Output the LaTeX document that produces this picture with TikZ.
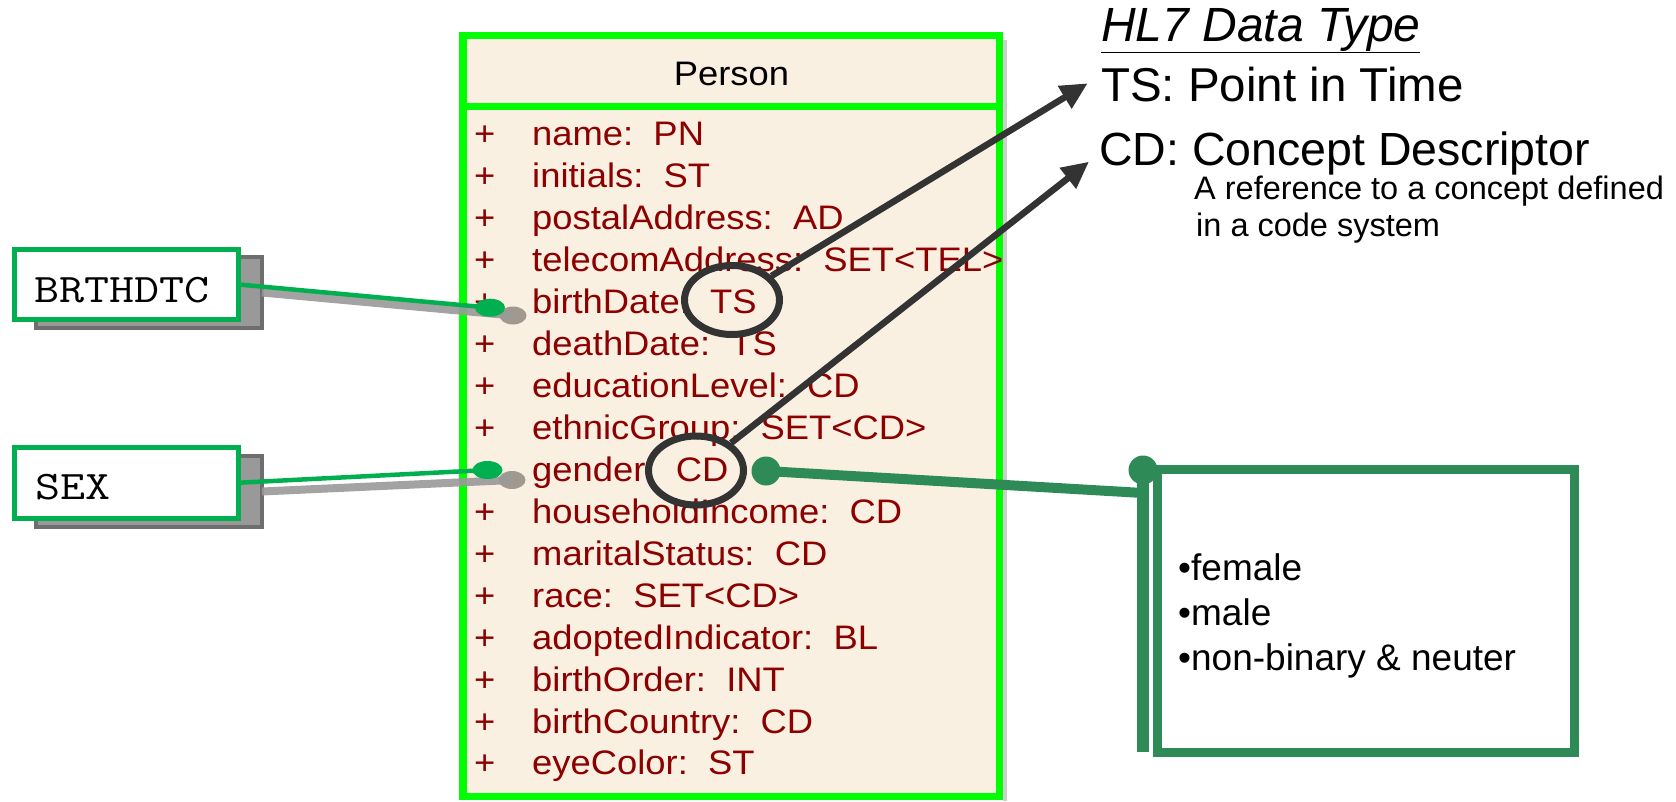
\documentclass[tikz,border=0pt]{standalone}
\usepackage{fontspec}
\setmainfont{Liberation Sans}
\newfontfamily\attrfont[FakeStretch=1.07]{Liberation Sans}
\newfontfamily\codefont[FakeStretch=1.2]{Latin Modern Mono}
\usetikzlibrary{arrows.meta,shapes.geometric}
\definecolor{boxfill}{RGB}{250,240,226}
\definecolor{attrred}{RGB}{140,0,0}
\definecolor{lime}{RGB}{0,255,0}
\definecolor{mapgreen}{RGB}{0,176,80}
\definecolor{sea}{RGB}{46,139,87}
\definecolor{shadowgray}{RGB}{153,153,153}
\definecolor{shadowedge}{RGB}{110,110,110}
\definecolor{blobgray}{RGB}{152,144,136}
\definecolor{ink}{RGB}{51,51,51}
\definecolor{lightshadow}{RGB}{205,205,205}
\begin{document}
\begin{tikzpicture}[x=1pt,y=-1pt,
  attr/.style={anchor=base west,inner sep=0,font=\attrfont\fontsize{34}{40}\selectfont,text=attrred},
  plain/.style={anchor=base west,inner sep=0},
  codebox/.style={draw=mapgreen,line width=5pt,fill=white,inner sep=0,outer sep=0,anchor=north west,minimum width=224.3pt,minimum height=70.5pt},
  shadowbox/.style={draw=shadowedge,line width=4pt,fill=shadowgray,inner sep=0,outer sep=0,anchor=north west,minimum width=226pt,minimum height=71pt},
  codetext/.style={anchor=base west,inner sep=0,font=\codefont\fontsize{40.5}{46}\selectfont},
  mapdot/.style={ellipse,fill=mapgreen,inner sep=0,minimum width=30pt,minimum height=18pt},
  blob/.style={ellipse,fill=blobgray,opacity=0.9,inner sep=0,minimum width=27pt,minimum height=18pt},
  shadowline/.style={shadowgray,line width=8pt,opacity=0.9},
  mapline/.style={mapgreen,line width=4.5pt},
  ring/.style={ellipse,draw=ink,line width=7pt,inner sep=0,minimum width=95pt,minimum height=69pt},
  pointer/.style={ink,line width=6.5pt,-{Triangle[length=27pt,width=25pt]}},
  seadot/.style={circle,fill=sea,inner sep=0,minimum size=29pt},
]
\useasboundingbox (0,0) rectangle (1676,801);

% ---------- Person class box ----------
\fill[lightshadow] (1003,40) rectangle (1007,801);
\node[draw=lime,line width=7.3pt,fill=boxfill,inner sep=0,outer sep=0,anchor=north west,
      minimum width=536.7pt,minimum height=760.7pt] (person) at (463,35.8) {};
\coordinate (sepL) at (463,106.3);
\coordinate (sepR) at (999.7,106.3);
\draw[lime,line width=7.3pt] (sepL) -- (sepR);
\node[anchor=base,inner sep=0,font=\attrfont\fontsize{34}{40}\selectfont] (ptitle) at (731.5,85.7) {Person};

\foreach \n/\t [count=\i from 0] in {name/PN,initials/ST,postalAddress/AD,telecomAddress/SET<TEL>,
   birthDate/TS,deathDate/TS,educationLevel/CD,ethnicGroup/SET<CD>,gender/CD,householdIncome/CD,
   maritalStatus/CD,race/SET<CD>,adoptedIndicator/BL,birthOrder/INT,birthCountry/CD,eyeColor/ST}{
  \node[attr] (plus\i) at (474,145.7+41.95*\i) {+};
  \node[attr] (attr\i) at (532,145.7+41.95*\i) {\n:\ \ \t};
}

% ---------- BRTHDTC ----------
\node[shadowbox] (brthS) at (36,257) {};
\node[codebox] (brth) at (14.2,249.2) {};
\node[codetext] (brthT) at (34,302.3) {BRTHDTC};
\node[blob] (bblob) at (513,315.5) {};
\draw[shadowline] (brthS.east) -- (bblob.center);
\node[mapdot] (bdot) at (490,307.7) {};
\draw[mapline] (brth.east) -- (bdot.center);

% ---------- SEX ----------
\node[shadowbox] (sexS) at (36,456) {};
\node[codebox] (sex) at (14.2,447.5) {};
\node[codetext] (sexT) at (35,499.3) {SEX};
\node[blob] (sblob) at (512,480) {};
\draw[shadowline] (sexS.east) -- (sblob.center);
\node[mapdot] (sdot) at (487.5,470) {};
\draw[mapline] (sex.east) -- (sdot.center);

% ---------- rings and pointers ----------
\node[ring] (tsring) at (732,300) {};
\node[ring] (cdring) at (696,470.5) {};
\coordinate (tsTip) at (1087.7,83.3);
\coordinate (cdTip) at (1089,161.7);
\draw[pointer] (tsring) -- (tsTip);
\draw[pointer] (cdring) -- (cdTip);

% ---------- HL7 legend ----------
\node[plain,font=\fontsize{48}{56}\selectfont\itshape] (hl7) at (1101,41) {\underline{HL7 Data Type}};
\node[plain,font=\fontsize{47.5}{56}\selectfont] (tsdesc) at (1101,101.7) {TS: Point in Time};
\node[plain,font=\fontsize{46.5}{56}\selectfont] (cddesc) at (1099,165.7) {CD: Concept Descriptor};
\node[plain,font=\fontsize{32.5}{37}\selectfont] (cdnote1) at (1194,199) {A reference to a concept defined};
\node[plain,font=\fontsize{32.5}{37}\selectfont] (cdnote2) at (1196,236) {in a code system};

% ---------- value set box ----------
\node[seadot] (cddot) at (766,471) {};
\node[seadot] (bardot) at (1143,470) {};
\coordinate (barJoin) at (1143,493);
\coordinate (barEnd) at (1143,752);
\draw[sea,line width=10pt] (cddot.center) -- (barJoin);
\draw[sea,line width=12pt] (bardot.center) -- (barEnd);
\node[draw=sea,line width=9pt,fill=white,inner sep=0,outer sep=0,anchor=north west,
      minimum width=417pt,minimum height=282.5pt] (vals) at (1157.5,469.5) {};
\node[plain,font=\fontsize{37}{45}\selectfont] (v1) at (1178,580) {•female};
\node[plain,font=\fontsize{37}{45}\selectfont] (v2) at (1178,625) {•male};
\node[plain,font=\fontsize{37}{45}\selectfont] (v3) at (1178,670) {•non-binary \& neuter};
\end{tikzpicture}
\end{document}
